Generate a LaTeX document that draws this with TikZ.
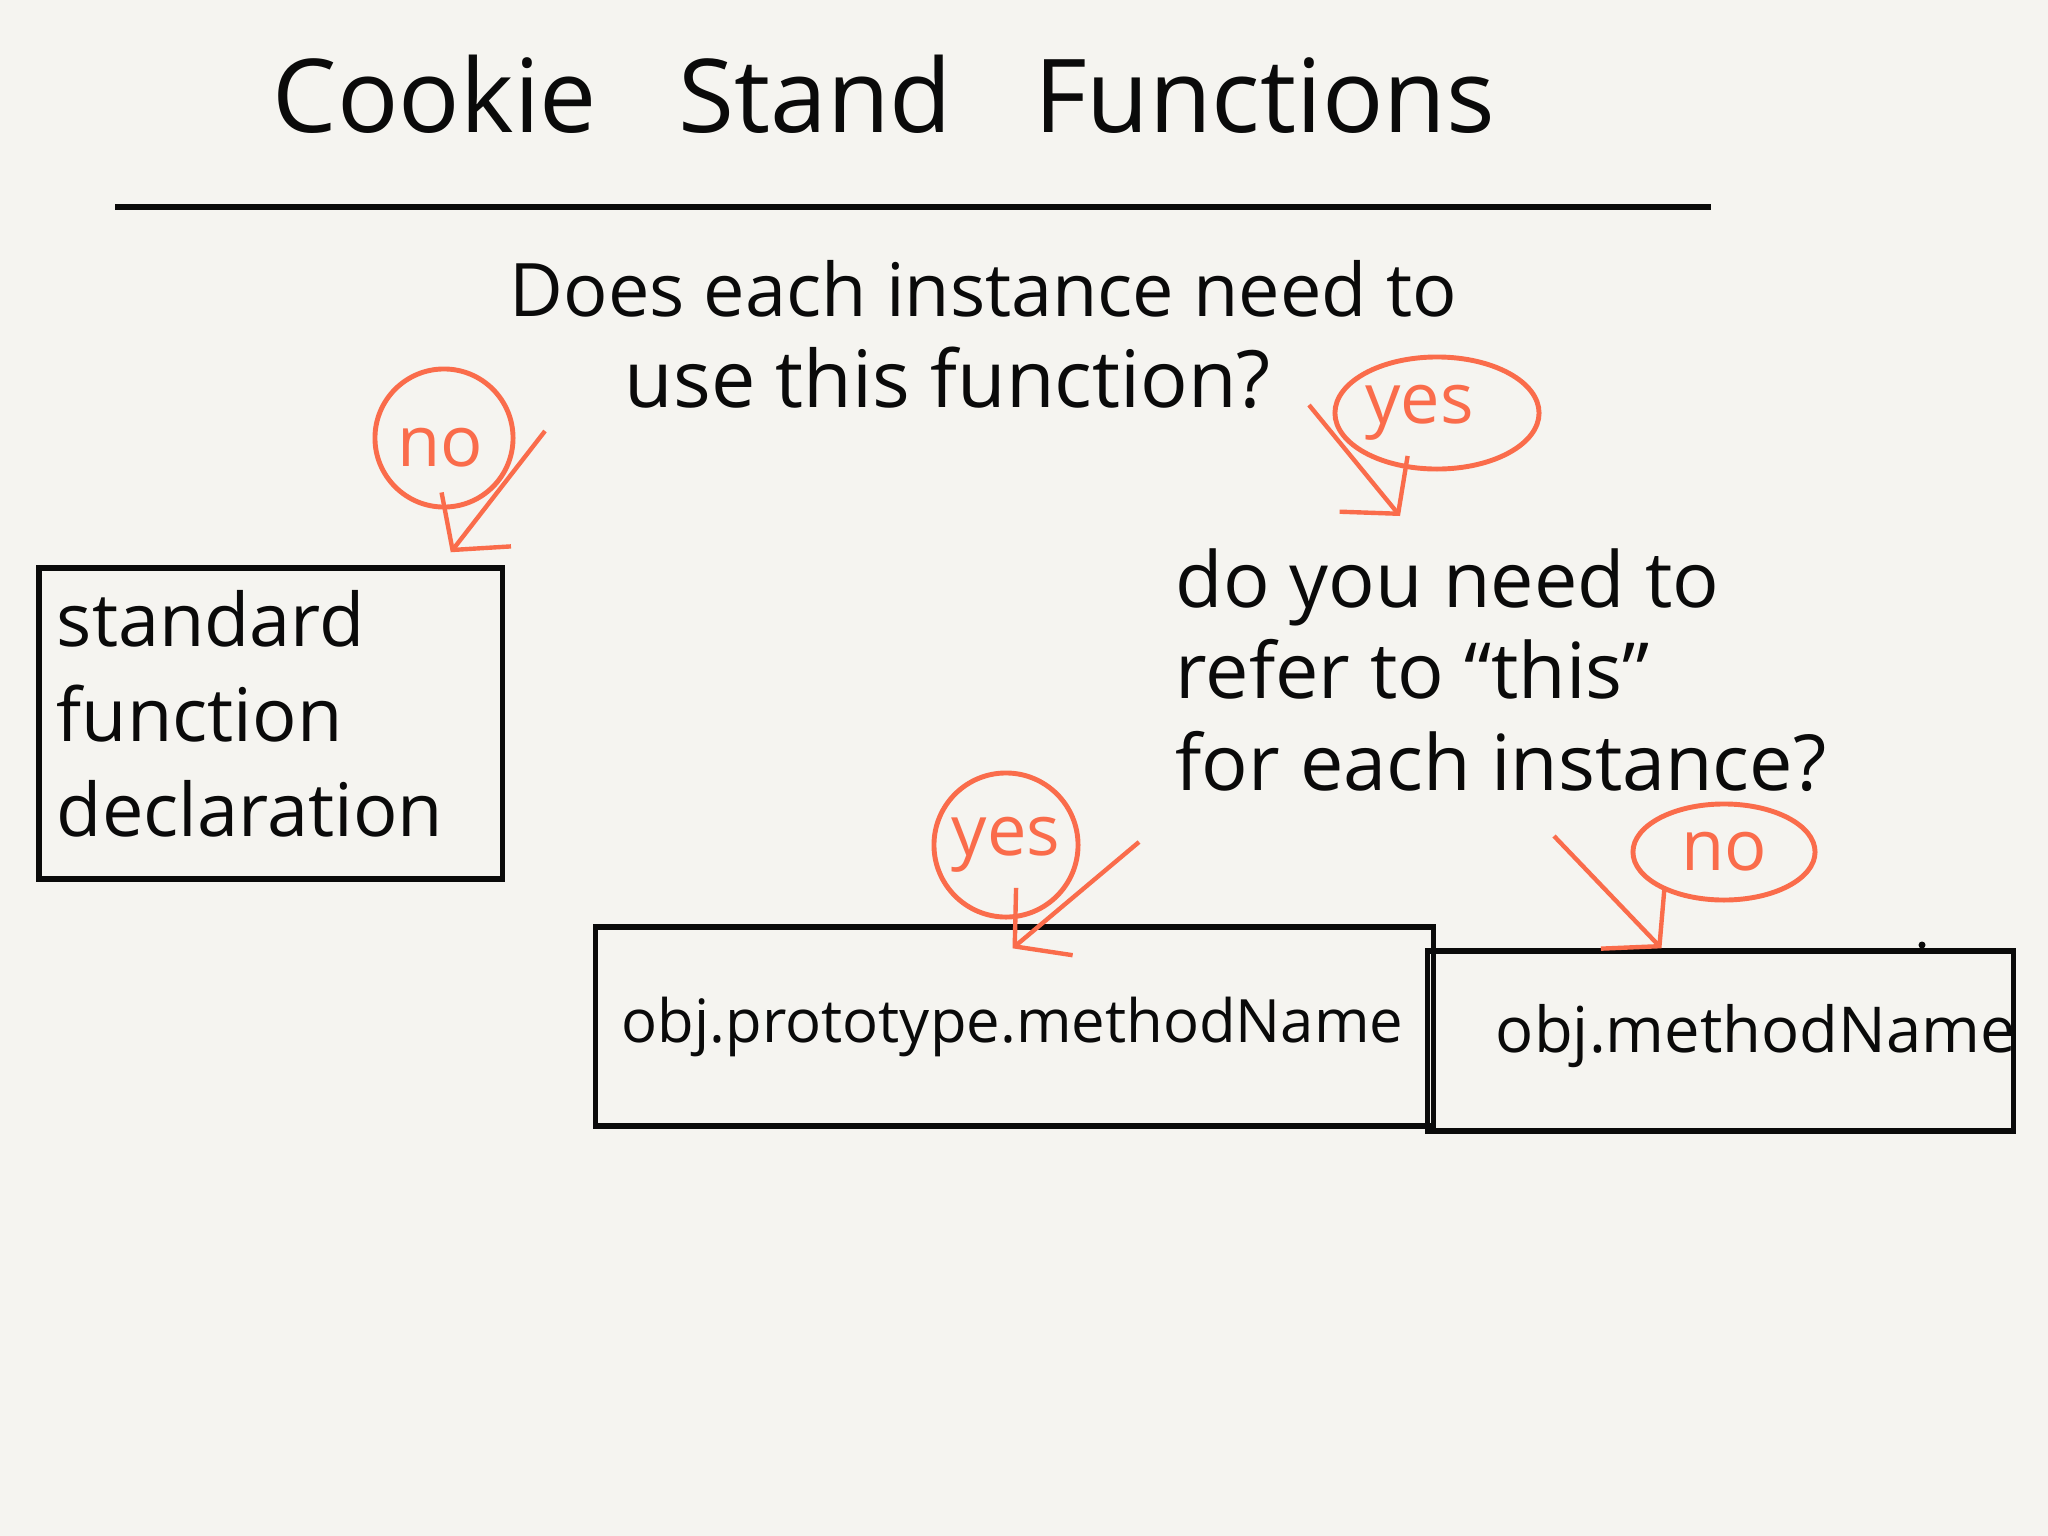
\documentclass[tikz,border=0pt]{standalone}
\usepackage{fontspec}
\setmainfont{Open Sans}
\usetikzlibrary{arrows.meta,shapes.geometric}
\definecolor{bg}{RGB}{245,244,240}
\definecolor{ink}{RGB}{10,10,10}
\definecolor{accent}{RGB}{250,108,75}
\begin{document}
\begin{tikzpicture}[x=0.01cm,y=-0.01cm,
  box/.style={draw=ink, line width=1.5pt, inner sep=0pt},
  hand/.style={text=ink, inner sep=0pt},
  tag/.style={draw=accent, line width=1.4pt, text=accent, inner sep=0pt, font=\fontsize{20}{22}\selectfont},
  arr/.style={draw=accent, line width=1.25pt, -{Straight Barb[length=11pt,width=25pt,line width=1.25pt]}}
]
\fill[bg] (0,0) rectangle (2048,1536);
\useasboundingbox (0,0) rectangle (2048,1536);

% title and rule
\node[hand, font=\fontsize{29}{34}\selectfont] (title) at (884,94) {Cookie\hspace{0.8em}Stand\hspace{0.8em}Functions};
\coordinate (rl) at (115,207);
\coordinate (rr) at (1711,207);
\draw[ink, line width=1.6pt] (rl) -- (rr);

% first question
\node[hand, anchor=base west, font=\fontsize{21}{27}\selectfont] (q1a) at (509,316) {Does each instance need to};
\node[hand, anchor=base west, font=\fontsize{22.5}{27}\selectfont] (q1b) at (624,407) {use this function?};

% no branch
\node[tag, circle, minimum size=1.38cm, text depth=0pt, text height=0pt] (no1) at (444,438) {};
\node[text=accent, inner sep=0pt, font=\fontsize{20}{22}\selectfont] (no1t) at (440,448) {no};
\node[box, minimum width=4.63cm, minimum height=3.11cm] (box1) at (270.5,723.5) {};
\node[hand, anchor=west, align=left, font=\fontsize{21}{27}\selectfont] (t1) at ([xshift=0.2cm,yshift=0.1cm]box1.west) {standard\\function\\declaration};
\coordinate (s1) at (545,431);
\draw[arr] (s1) -- ([xshift=-0.54cm,yshift=0.13cm]box1.north east);

% yes branch
\node[tag, ellipse, minimum width=2.04cm, minimum height=1.12cm] (yes1) at (1437,413) {\hspace*{-10pt}yes};
\coordinate (s2) at (1309,405);
\coordinate (e2) at (1400,516);
\draw[arr] (s2) -- (e2);

\node[hand, anchor=north west, align=left, font=\fontsize{22}{26}\selectfont] (q2) at (1175,548) {do you need to\\refer to ``this''\\for each instance?};

% second level
\node[tag, circle, minimum size=1.44cm] (yes2) at (1006,845) {yes};
\node[tag, ellipse, minimum width=1.82cm, minimum height=0.96cm] (no2) at (1724,852) {no};

\node[box, minimum width=8.37cm, minimum height=1.99cm] (box2) at (1014.5,1026.5) {};
\node[hand, anchor=west, font=\fontsize{17}{20}\selectfont] (t2) at ([xshift=0.28cm]box2.west) {obj.prototype.methodName};

\node[box, minimum width=5.85cm, minimum height=1.80cm] (box3) at (1720.5,1041) {};
\node[hand, anchor=west, font=\fontsize{18}{20}\selectfont] (t3) at ([xshift=0.70cm,yshift=0.05cm]box3.west) {obj.methodName};
\node[circle, fill=ink, inner sep=0pt, minimum size=0.07cm] (dot) at (1922,945) {};

\coordinate (s3) at (1139,842);
\draw[arr] (s3) -- ([xshift=-0.02cm,yshift=-0.24cm]box2.north);
\coordinate (s4) at (1554,836);
\draw[arr] (s4) -- ([xshift=-0.59cm]box3.north);
\end{tikzpicture}
\end{document}
